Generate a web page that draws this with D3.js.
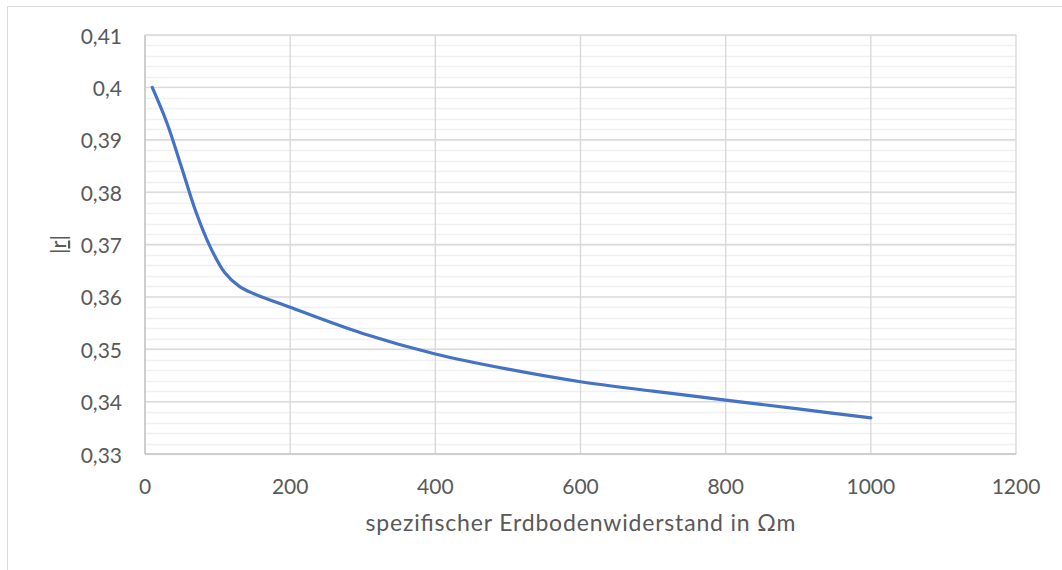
<!DOCTYPE html>
<html>
<head>
<meta charset="utf-8">
<script src="https://cdn.jsdelivr.net/npm/d3@7"></script>
<style>
  html, body { margin: 0; padding: 0; background: #fff; }
  svg text { font-family: Lato, "Open Sans", sans-serif; fill: #595959; }
</style>
</head>
<body>
<svg id="chart" width="1062" height="570"></svg>
<script>
// Data
const resistivity = [10, 30, 50, 70, 90, 110, 130, 150, 200, 300, 400, 500, 600, 700, 800, 900, 1000];
const reflection  = [0.4000, 0.3933, 0.3849, 0.3763, 0.3695, 0.3646, 0.3620, 0.3606, 0.3580, 0.3530, 0.3491, 0.3462, 0.3438, 0.3420, 0.3403, 0.3386, 0.3369];
const xTicks = [0, 200, 400, 600, 800, 1000, 1200];
const yTicks = [0.33, 0.34, 0.35, 0.36, 0.37, 0.38, 0.39, 0.40, 0.41];
const yMinorTicks = d3.range(0, 41).map(i => 0.33 + i * 0.002);
const xTitle = "spezifischer Erdbodenwiderstand in Ωm";

const svg = d3.select("#chart");
const W = 1062, H = 570;
const m = { left: 145, right: 1016, top: 35, bottom: 454 };

// outer chart border
svg.append("rect")
  .attr("x", 7.5).attr("y", 6.5).attr("width", W).attr("height", H)
  .attr("fill", "none").attr("stroke", "#d9d9d9").attr("stroke-width", 1);

const x = d3.scaleLinear().domain([0, 1200]).range([m.left, m.right]);
const y = d3.scaleLinear().domain([0.33, 0.41]).range([m.bottom, m.top]);

const fmt = v => {
  let s = d3.format(".2f")(v);
  s = s.replace(/0$/, "");
  return s.replace(".", ",");
};

// minor horizontal gridlines
svg.append("g").selectAll("line").data(yMinorTicks).join("line")
  .attr("x1", m.left).attr("x2", m.right)
  .attr("y1", d => Math.round(y(d)) + 0.5).attr("y2", d => Math.round(y(d)) + 0.5)
  .attr("stroke", "#f0f0f0").attr("stroke-width", 1.3);

// major horizontal gridlines
svg.append("g").selectAll("line").data(yTicks).join("line")
  .attr("x1", m.left).attr("x2", m.right)
  .attr("y1", d => y(d)).attr("y2", d => y(d))
  .attr("stroke", "#d9d9d9").attr("stroke-width", 1.4);

// vertical gridlines
svg.append("g").selectAll("line").data(xTicks).join("line")
  .attr("x1", d => x(d)).attr("x2", d => x(d))
  .attr("y1", m.top).attr("y2", m.bottom)
  .attr("stroke", "#d9d9d9").attr("stroke-width", 1.4);

// axis lines
svg.append("line")
  .attr("x1", m.left).attr("x2", m.left).attr("y1", m.top).attr("y2", m.bottom)
  .attr("stroke", "#c8c8c8").attr("stroke-width", 1.6);
svg.append("line")
  .attr("x1", m.left).attr("x2", m.right).attr("y1", m.bottom).attr("y2", m.bottom)
  .attr("stroke", "#c8c8c8").attr("stroke-width", 1.6);

// y tick labels
svg.append("g").selectAll("text").data(yTicks).join("text")
  .attr("x", 122).attr("y", d => y(d))
  .attr("text-anchor", "end").attr("dominant-baseline", "central")
  .style("font-size", "21px")
  .text(d => fmt(d));

// x tick labels
svg.append("g").selectAll("text").data(xTicks).join("text")
  .attr("x", d => x(d)).attr("y", 494)
  .attr("text-anchor", "middle")
  .style("font-size", "21px")
  .text(d => d);

// x axis title
svg.append("text")
  .attr("x", (m.left + m.right) / 2).attr("y", 531)
  .attr("text-anchor", "middle")
  .attr("textLength", 430).attr("lengthAdjust", "spacing")
  .style("font-size", "23px")
  .text(xTitle);

// y axis title |r| with underlined r
const yt = svg.append("text")
  .attr("transform", `translate(66,${(m.top + m.bottom) / 2}) rotate(-90)`)
  .attr("text-anchor", "middle")
  .style("font-size", "22px");
yt.append("tspan").text("|");
yt.append("tspan").style("text-decoration", "underline").text("r");
yt.append("tspan").text("|");

// data line
const pts = resistivity.map((r, i) => [r, reflection[i]]);
svg.append("path")
  .datum(pts)
  .attr("fill", "none")
  .attr("stroke", "#4472C4")
  .attr("stroke-width", 3.2)
  .attr("stroke-linejoin", "round")
  .attr("stroke-linecap", "round")
  .attr("d", d3.line().x(d => x(d[0])).y(d => y(d[1])).curve(d3.curveCatmullRom.alpha(0.5)));
</script>
</body>
</html>
